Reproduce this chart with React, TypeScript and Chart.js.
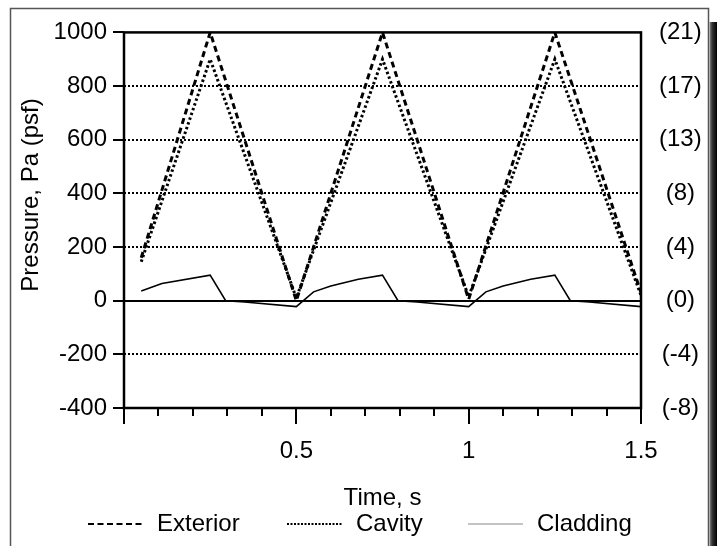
import React, { useEffect, useRef } from "react";
import { Chart, registerables } from "chart.js";

Chart.register(...registerables);

// ---- data ----
const exteriorTimes = [0.05, 0.25, 0.5, 0.75, 1.0, 1.25, 1.5];
const exteriorValues = [160, 1000, 0, 1000, 5, 1000, 30];

const cavityTimes = [0.05, 0.25, 0.5, 0.75, 1.0, 1.25, 1.5];
const cavityValues = [145, 900, 10, 900, 15, 900, 20];

const claddingTimes = [
  0.05, 0.11, 0.25, 0.295, 0.35, 0.5,
  0.55, 0.6, 0.68, 0.75, 0.795, 0.85, 1.0,
  1.05, 1.1, 1.18, 1.25, 1.295, 1.35, 1.5,
];
const claddingValues = [
  36, 64, 95, 0, -5, -22,
  33, 55, 80, 95, 0, -5, -22,
  33, 55, 80, 95, 0, -5, -22,
];

const seriesNames = ["Exterior", "Cavity", "Cladding"];
const xLabelTicks = [0.5, 1, 1.5];
const xLabelTexts = ["0.5", "1", "1.5"];
const paTicks = [-400, -200, 0, 200, 400, 600, 800, 1000];
const psfTickLabels = ["(-8)", "(-4)", "(0)", "(4)", "(8)", "(13)", "(17)", "(21)"];
const xTitle = "Time, s";
const yTitle = "Pressure, Pa (psf)";

const FONT = '"Liberation Sans", Arial, sans-serif';
const FS = 24;

const toPoints = (ts: number[], vs: number[]) => ts.map((t, i) => ({ x: t, y: vs[i] }));

const decorPlugin = {
  id: "decor",
  beforeDraw(chart: any) {
    const { ctx, width, height } = chart;
    ctx.save();
    ctx.fillStyle = "#fff";
    ctx.fillRect(0, 0, width, height);
    // outer frame
    ctx.strokeStyle = "#555";
    ctx.lineWidth = 1.5;
    ctx.beginPath();
    ctx.moveTo(10.5, height);
    ctx.lineTo(10.5, 8.5);
    ctx.lineTo(708.5, 8.5);
    ctx.lineTo(708.5, height);
    ctx.stroke();
    // shadow on right
    const g = ctx.createLinearGradient(709, 0, 717, 0);
    g.addColorStop(0, "#999");
    g.addColorStop(0.4, "#333");
    g.addColorStop(1, "#000");
    ctx.fillStyle = g;
    ctx.fillRect(709.5, 22, 8, height - 22);
    ctx.restore();
  },
  beforeDatasetsDraw(chart: any) {
    const { ctx, chartArea } = chart;
    const y = chart.scales.y;
    ctx.save();
    ctx.strokeStyle = "#000";
    ctx.lineWidth = 2;
    ctx.setLineDash([2, 2]);
    y.ticks.forEach((t: any) => {
      if (t.value === y.max || t.value === y.min || t.value === 0) return;
      const py = Math.round(y.getPixelForValue(t.value));
      ctx.beginPath();
      ctx.moveTo(chartArea.left, py);
      ctx.lineTo(chartArea.right, py);
      ctx.stroke();
    });
    ctx.setLineDash([]);
    const p0 = Math.round(y.getPixelForValue(0));
    ctx.beginPath();
    ctx.moveTo(chartArea.left, p0);
    ctx.lineTo(chartArea.right, p0);
    ctx.stroke();
    ctx.restore();
  },
  afterDatasetsDraw(chart: any) {
    const { ctx, chartArea } = chart;
    const x = chart.scales.x;
    const y = chart.scales.y;
    const { left, right, top, bottom } = chartArea;
    ctx.save();
    ctx.strokeStyle = "#000";
    ctx.lineWidth = 2.5;
    ctx.setLineDash([]);
    ctx.strokeRect(left, top, right - left, bottom - top);
    // y ticks
    ctx.lineWidth = 2;
    y.ticks.forEach((t: any) => {
      const py = Math.round(y.getPixelForValue(t.value));
      ctx.beginPath();
      ctx.moveTo(left - 11, py);
      ctx.lineTo(left, py);
      ctx.stroke();
    });
    // x ticks
    x.ticks.forEach((t: any) => {
      const v = t.value;
      const major = Math.abs(v / 0.5 - Math.round(v / 0.5)) < 1e-6;
      const px = Math.round(x.getPixelForValue(v));
      ctx.beginPath();
      ctx.moveTo(px, bottom);
      ctx.lineTo(px, bottom + (major ? 16 : 8));
      ctx.stroke();
    });
    // titles
    ctx.fillStyle = "#000";
    ctx.font = `${FS}px ${FONT}`;
    ctx.textAlign = "center";
    ctx.textBaseline = "middle";
    ctx.fillText(xTitle, (left + right) / 2, 498);
    ctx.save();
    ctx.translate(31, 195);
    ctx.rotate(-Math.PI / 2);
    ctx.fillText(yTitle, 0, 0);
    ctx.restore();
    // legend
    const sampleStarts = [88, 287, 468];
    const sampleLen = 55;
    const ly = 524;
    chart.data.datasets.forEach((ds: any, i: number) => {
      const sx = sampleStarts[i];
      ctx.save();
      ctx.strokeStyle = i === 2 ? "#888" : "#000";
      ctx.lineWidth = i === 2 ? 1 : 2;
      ctx.setLineDash(i === 0 ? [6, 3.5] : i === 1 ? [2, 1.5] : []);
      ctx.beginPath();
      ctx.moveTo(sx, ly);
      ctx.lineTo(sx + sampleLen, ly);
      ctx.stroke();
      ctx.restore();
      ctx.textAlign = "left";
      ctx.fillText(ds.label, sx + sampleLen + 14, ly);
    });
    ctx.restore();
  },
};

export default function App() {
  const ref = useRef<HTMLCanvasElement | null>(null);
  useEffect(() => {
    if (!ref.current) return;
    Chart.defaults.font.family = FONT;
    const chart = new Chart(ref.current, {
      type: "line",
      data: {
        datasets: [
          {
            label: seriesNames[0],
            data: toPoints(exteriorTimes, exteriorValues),
            borderColor: "#000",
            borderWidth: 3,
            borderDash: [6, 4],
            pointRadius: 0,
            fill: false,
            tension: 0,
          },
          {
            label: seriesNames[1],
            data: toPoints(cavityTimes, cavityValues),
            borderColor: "#000",
            borderWidth: 3,
            borderDash: [2.5, 2.5],
            pointRadius: 0,
            fill: false,
            tension: 0,
          },
          {
            label: seriesNames[2],
            data: toPoints(claddingTimes, claddingValues),
            borderColor: "#000",
            borderWidth: 1.6,
            pointRadius: 0,
            fill: false,
            tension: 0,
          },
        ],
      },
      options: {
        animation: false,
        responsive: false,
        devicePixelRatio: 1,
        layout: { padding: { top: 29, left: 0, right: 0, bottom: 0 } },
        plugins: { legend: { display: false }, tooltip: { enabled: false } },
        scales: {
          x: {
            type: "linear",
            min: 0,
            max: 1.5,
            position: "bottom",
            grid: { display: false, drawTicks: false },
            border: { display: false },
            ticks: {
              stepSize: 0.1,
              autoSkip: false,
              maxRotation: 0,
              padding: 29,
              color: "#000",
              font: { size: FS, family: FONT },
              callback: (v: any) => {
                const i = xLabelTicks.findIndex((t) => Math.abs(t - Number(v)) < 1e-6);
                return i >= 0 ? xLabelTexts[i] : "";
              },
            },
            afterFit: (s: any) => {
              s.height = 138;
            },
          },
          y: {
            type: "linear",
            min: -400,
            max: 1000,
            position: "left",
            grid: { display: false, drawTicks: false },
            border: { display: false },
            ticks: {
              stepSize: 200,
              padding: 17,
              color: "#000",
              font: { size: FS, family: FONT },
              callback: (v: any) => String(v),
            },
            afterFit: (s: any) => {
              s.width = 124;
            },
          },
          y2: {
            type: "linear",
            min: -400,
            max: 1000,
            position: "right",
            grid: { display: false, drawTicks: false },
            border: { display: false },
            ticks: {
              stepSize: 200,
              padding: 18,
              crossAlign: "center",
              color: "#000",
              font: { size: FS, family: FONT },
              callback: (v: any) => {
                const i = paTicks.indexOf(Number(v));
                return i >= 0 ? psfTickLabels[i] : "";
              },
            },
            afterFit: (s: any) => {
              s.width = 76;
            },
          },
        },
      },
      plugins: [decorPlugin],
    });
    return () => chart.destroy();
  }, []);
  return (
    <div style={{ position: "fixed", left: 0, top: 0, width: 717, height: 546, background: "#fff" }}>
      <canvas ref={ref} width={717} height={546} style={{ display: "block", width: 717, height: 546 }} />
    </div>
  );
}
